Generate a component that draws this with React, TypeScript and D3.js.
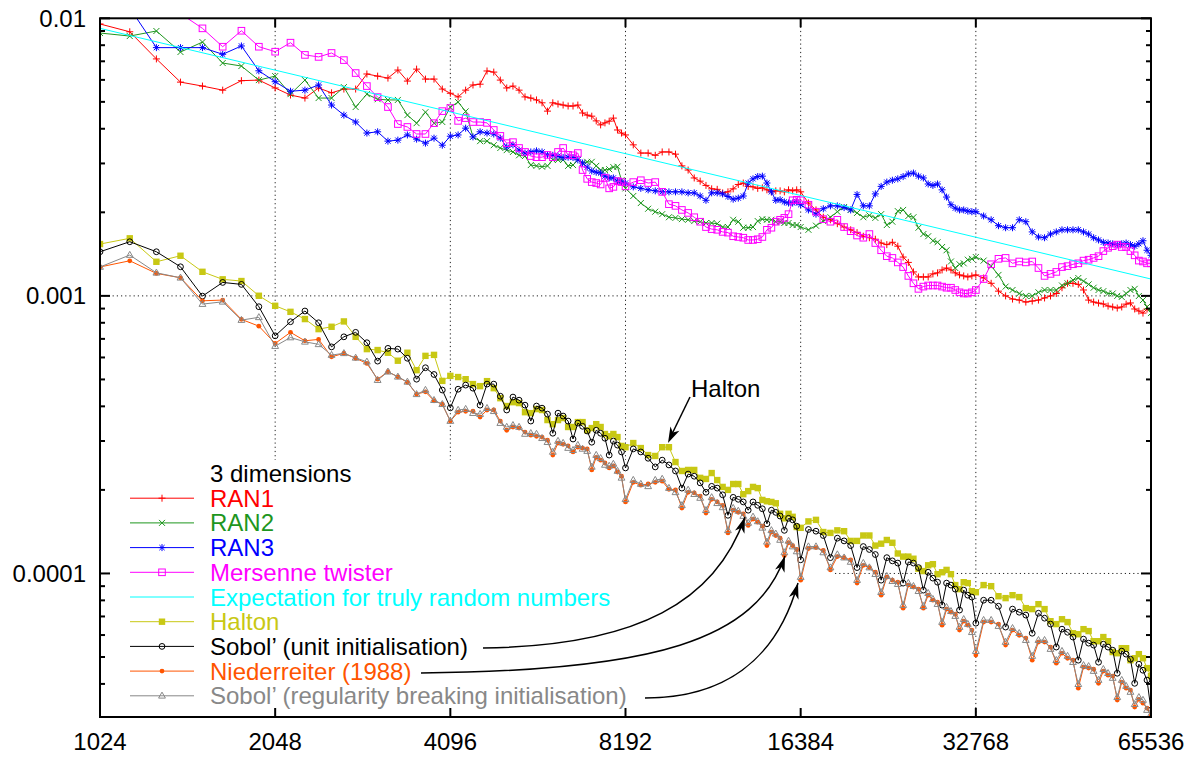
import React from 'react';
import * as d3 from 'd3';

// ---------------- data ----------------
// main sample counts (every 128 up to 4096, then coarser)
const sampleCounts = [
  1024, 1152, 1280, 1408, 1536, 1664, 1792, 1920, 2048, 2176, 2304, 2432, 2560, 2688, 2816, 2944, 3072, 3200, 3328, 3456, 3584, 3712, 3840, 3968, 4096,
  4352, 4608, 4864, 5120, 5376, 5632, 5888, 6144, 6400, 6656, 6912, 7168, 7424, 7680, 7936, 8192,
  8704, 9216, 9728, 10240, 10752, 11264, 11776, 12288, 12800, 13312, 13824, 14336, 14848, 15360, 15872, 16384,
  17408, 18432, 19456, 20480, 21504, 22528, 23552, 24576, 25600, 26624, 27648, 28672, 29696, 30720, 31744, 32768,
  34816, 36864, 38912, 40960, 43008, 45056, 47104, 49152, 51200, 53248, 55296, 57344, 59392, 61440, 63488, 65536,
];
// additional sample counts read between the main ones
const extraCounts = [
  4224, 4480, 4736, 4992, 5248, 5504, 5760, 6016, 6272, 6528, 6784, 7040, 7296, 7552, 7808, 8064,
  8448, 8960, 9472, 9984, 10496, 11008, 11520, 12032, 12544, 13056, 13568, 14080, 14592, 15104, 15616, 16128,
  16896, 17920, 18944, 19968, 20992, 22016, 23040, 24064, 25088, 26112, 27136, 28160, 29184, 30208, 31232, 32256,
  33792, 35840, 37888, 39936, 41984, 44032, 46080, 48128, 50176, 52224, 54272, 56320, 58368, 60416, 62464, 64512,
];

const ran1 = [
  0.00954, 0.00894, 0.00714, 0.00589, 0.0057, 0.00551, 0.00596, 0.00599, 0.00561, 0.00529, 0.00516, 0.00561, 0.00539, 0.00556, 0.00556, 0.0063, 0.00619, 0.00609, 0.00651, 0.00594, 0.00656, 0.00604, 0.00604, 0.00556, 0.00537,
  0.00551, 0.00579, 0.0064, 0.00561, 0.00551, 0.00516, 0.00496, 0.00496, 0.00487, 0.00483, 0.00456, 0.00444, 0.00413, 0.00426, 0.00396, 0.0038,
  0.00327, 0.00321, 0.0033, 0.00294, 0.00266, 0.0025, 0.00242, 0.00237, 0.00252, 0.00248, 0.00244, 0.00241, 0.00239, 0.00237, 0.00239, 0.00237,
  0.00204, 0.00188, 0.00177, 0.00169, 0.00162, 0.00155, 0.00156, 0.00138, 0.00122, 0.00117, 0.0012, 0.00124, 0.00124, 0.00119, 0.00117, 0.00119,
  0.00111, 0.001, 0.000966, 0.000958, 0.000983, 0.00102, 0.00111, 0.0011, 0.000966, 0.000942, 0.000919, 0.000904, 0.000934, 0.000897, 0.000867, 0.000889,
];
const ran1Extra = [
  0.00521, 0.00575, 0.00646, 0.00599, 0.0057, 0.00521, 0.00508, 0.00463, 0.00491, 0.00483, 0.00487, 0.00448, 0.00427, 0.0042, 0.00437, 0.00386,
  0.0035, 0.00327, 0.0033, 0.00324, 0.00284, 0.00259, 0.00243, 0.00235, 0.00243, 0.00255, 0.00247, 0.00245, 0.00237, 0.00239, 0.00241, 0.00241,
  0.00216, 0.00192, 0.00182, 0.00173, 0.00164, 0.0016, 0.00153, 0.00151, 0.00132, 0.00117, 0.00117, 0.00121, 0.00126, 0.00121, 0.00118, 0.00118,
  0.00116, 0.00104, 0.000974, 0.00095, 0.000966, 0.000999, 0.00107, 0.00111, 0.00105, 0.00095, 0.000935, 0.000912, 0.000912, 0.000943, 0.000882, 0.000897,
];

const ran2 = [
  0.00885, 0.00863, 0.009, 0.00756, 0.00821, 0.0069, 0.00673, 0.00599, 0.00619, 0.00533, 0.00599, 0.00516, 0.00516, 0.00565, 0.00479, 0.00533, 0.00511, 0.00508, 0.00508, 0.00448, 0.00419, 0.00459, 0.00419, 0.00423, 0.00479,
  0.00462, 0.00361, 0.00349, 0.00335, 0.00321, 0.00296, 0.00292, 0.00309, 0.00309, 0.00296, 0.00301, 0.00304, 0.00284, 0.00286, 0.00292, 0.00244,
  0.00216, 0.00201, 0.00192, 0.00189, 0.00186, 0.00183, 0.00182, 0.00177, 0.00185, 0.00176, 0.00186, 0.00188, 0.00185, 0.00183, 0.0018, 0.00177,
  0.00179, 0.00192, 0.00209, 0.00199, 0.00195, 0.00197, 0.00185, 0.00204, 0.00192, 0.00167, 0.00158, 0.0015, 0.00133, 0.0013, 0.00135, 0.00138,
  0.00128, 0.00108, 0.00102, 0.001, 0.00105, 0.00105, 0.00111, 0.00116, 0.0011, 0.00105, 0.00102, 0.001, 0.00102, 0.00106, 0.000966, 0.000867,
];
const ran2Extra = [
  0.00499, 0.00374, 0.00361, 0.00341, 0.0033, 0.00319, 0.00294, 0.00294, 0.00309, 0.00294, 0.00309, 0.00304, 0.00294, 0.00284, 0.00291, 0.00261,
  0.00229, 0.00206, 0.00197, 0.00191, 0.00188, 0.00185, 0.00183, 0.00177, 0.00188, 0.00176, 0.00177, 0.00189, 0.00188, 0.00185, 0.00183, 0.0018,
  0.00173, 0.00186, 0.00201, 0.00204, 0.00192, 0.00191, 0.0018, 0.00202, 0.00194, 0.00176, 0.00164, 0.00156, 0.00146, 0.00126, 0.00131, 0.00136,
  0.00134, 0.00119, 0.00105, 0.000999, 0.00103, 0.00105, 0.00109, 0.00114, 0.00113, 0.00107, 0.00104, 0.00102, 0.000991, 0.00105, 0.000999, 0.000912,
];

const ran3 = [
  0.0112, 0.0109, 0.00784, 0.00784, 0.00784, 0.00742, 0.00795, 0.00647, 0.00591, 0.00546, 0.00551, 0.00575, 0.00487, 0.00448, 0.00423, 0.00386, 0.0039, 0.00361, 0.00364, 0.0038, 0.00367, 0.00355, 0.0037, 0.00349, 0.00376,
  0.00402, 0.0039, 0.00383, 0.00344, 0.00335, 0.0033, 0.0033, 0.00321, 0.00315, 0.00315, 0.00301, 0.00282, 0.00277, 0.00266, 0.00259, 0.00255,
  0.00244, 0.00239, 0.00237, 0.00237, 0.00235, 0.00221, 0.00235, 0.00228, 0.00225, 0.00255, 0.00269, 0.00255, 0.00221, 0.00218, 0.00216, 0.00213,
  0.00197, 0.00211, 0.00208, 0.00232, 0.00211, 0.00248, 0.00261, 0.00269, 0.00277, 0.00266, 0.0025, 0.00241, 0.00213, 0.00204, 0.00202, 0.00201,
  0.00188, 0.00176, 0.00188, 0.0017, 0.00162, 0.0017, 0.00173, 0.00173, 0.00167, 0.00159, 0.00155, 0.00153, 0.00155, 0.00151, 0.00158, 0.0014,
];
const ran3Extra = [
  0.0038, 0.00374, 0.00386, 0.0037, 0.0035, 0.00327, 0.00333, 0.00322, 0.00319, 0.00316, 0.00309, 0.00291, 0.00279, 0.0027, 0.00266, 0.00257,
  0.00247, 0.00241, 0.00237, 0.00237, 0.00235, 0.00229, 0.00235, 0.00233, 0.00223, 0.00229, 0.00264, 0.0027, 0.00237, 0.00222, 0.00216, 0.00218,
  0.00204, 0.00206, 0.00211, 0.00204, 0.00211, 0.00233, 0.00257, 0.00264, 0.00275, 0.0027, 0.00253, 0.00253, 0.00227, 0.00207, 0.00204, 0.00201,
  0.00194, 0.00179, 0.00176, 0.00185, 0.00163, 0.00167, 0.00173, 0.00173, 0.0017, 0.00162, 0.00156, 0.00154, 0.00154, 0.00153, 0.00154, 0.00146,
];

const mersenne = [
  0.0125, 0.0118, 0.0112, 0.0104, 0.0092, 0.0079, 0.00902, 0.0079, 0.00758, 0.00817, 0.00738, 0.00726, 0.0075, 0.00707, 0.00635, 0.0057, 0.0052, 0.00479, 0.00416, 0.00406, 0.00383, 0.00383, 0.00419, 0.00463, 0.00475,
  0.00437, 0.00423, 0.00396, 0.00355, 0.00341, 0.00319, 0.00316, 0.00316, 0.00341, 0.00321, 0.00284, 0.00257, 0.00252, 0.00244, 0.00259, 0.00248,
  0.00261, 0.00257, 0.00214, 0.00204, 0.00192, 0.00177, 0.00173, 0.00169, 0.00163, 0.00159, 0.0016, 0.00173, 0.00185, 0.00191, 0.00221, 0.00221,
  0.00201, 0.00185, 0.00177, 0.00165, 0.00167, 0.00146, 0.00137, 0.00127, 0.00111, 0.00108, 0.00109, 0.00108, 0.00107, 0.00103, 0.00102, 0.00105,
  0.0013, 0.00137, 0.00133, 0.00133, 0.00118, 0.00122, 0.00128, 0.00131, 0.00135, 0.00139, 0.00149, 0.00153, 0.0015, 0.0014, 0.00133, 0.00131,
];
const mersenneExtra = [
  0.00427, 0.00423, 0.0042, 0.00377, 0.00358, 0.0033, 0.00316, 0.00322, 0.0033, 0.00322, 0.00327, 0.00264, 0.00255, 0.00266, 0.00247, 0.00257,
  0.00257, 0.00255, 0.00237, 0.00211, 0.00199, 0.00185, 0.00174, 0.0017, 0.00164, 0.00162, 0.00159, 0.00163, 0.00176, 0.00188, 0.00197, 0.00222,
  0.00213, 0.00189, 0.00188, 0.00171, 0.00162, 0.00155, 0.00139, 0.00132, 0.00118, 0.00106, 0.00109, 0.00109, 0.00107, 0.00105, 0.00102, 0.00103,
  0.00115, 0.00136, 0.00131, 0.00132, 0.00126, 0.0012, 0.00127, 0.0013, 0.00134, 0.00137, 0.00145, 0.00151, 0.0015, 0.00145, 0.00134, 0.00131,
];

const expectationCounts = [1024, 65536];
const expectation = [0.0092, 0.00115];

const halton = [
  0.001537, 0.001612, 0.001327, 0.001395, 0.001221, 0.001147, 0.001131, 0.001001, 0.000921, 0.000876, 0.000825, 0.000759, 0.000774, 0.000809, 0.000712, 0.000643, 0.000638, 0.000624, 0.000584, 0.000624, 0.00054, 0.000608, 0.000613, 0.000494, 0.000515,
  0.000501, 0.000473, 0.000465, 0.000401, 0.000411, 0.000378, 0.000388, 0.000345, 0.000363, 0.000337, 0.000351, 0.000334, 0.000337, 0.000312, 0.00031, 0.000285,
  0.000283, 0.000265, 0.000285, 0.000234, 0.000236, 0.000219, 0.000217, 0.0002, 0.00021, 0.000198, 0.000203, 0.000182, 0.000179, 0.000158, 0.00016, 0.000146,
  0.000156, 0.00014, 0.000142, 0.000131, 0.000137, 0.000128, 0.000129, 0.000115, 0.000113, 0.000102, 0.000108, 0.000101, 0.0000994, 0.0000878, 0.0000923, 0.0000856,
  0.00009, 0.0000815, 0.0000822, 0.0000744, 0.0000744, 0.0000657, 0.0000668, 0.0000604, 0.000062, 0.000057, 0.000057, 0.0000516, 0.0000538, 0.0000495, 0.0000495, 0.0000427,
];
const haltonExtra = [
  0.00051, 0.000481, 0.000493, 0.000428, 0.000414, 0.000381, 0.000391, 0.000357, 0.000357, 0.000337, 0.000351, 0.000328, 0.000345, 0.000318, 0.000318, 0.000288,
  0.000295, 0.000267, 0.000285, 0.000252, 0.000236, 0.000221, 0.00023, 0.000205, 0.00021, 0.000193, 0.000205, 0.000184, 0.000181, 0.000164, 0.000164, 0.000147,
  0.000154, 0.000141, 0.000143, 0.000131, 0.000137, 0.000126, 0.000132, 0.000118, 0.000115, 0.000104, 0.000107, 0.0000994, 0.000103, 0.0000908, 0.000093, 0.0000863,
  0.0000908, 0.0000828, 0.0000835, 0.000075, 0.0000775, 0.0000673, 0.0000684, 0.0000609, 0.000063, 0.000057, 0.000059, 0.0000521, 0.0000538, 0.0000487, 0.0000512, 0.0000456,
];

const sobolUnit = [
  0.001442, 0.001567, 0.001442, 0.001273, 0.000998, 0.001118, 0.0011, 0.000914, 0.000718, 0.000807, 0.000882, 0.0008, 0.000655, 0.000712, 0.000739, 0.000678, 0.000582, 0.000647, 0.000643, 0.000596, 0.000501, 0.000551, 0.000521, 0.000458, 0.000395,
  0.000477, 0.000404, 0.000481, 0.000388, 0.000421, 0.000354, 0.000394, 0.00032, 0.000369, 0.000305, 0.000339, 0.000297, 0.00032, 0.000267, 0.00029, 0.00024,
  0.000274, 0.000242, 0.000246, 0.000203, 0.000224, 0.000196, 0.000203, 0.000162, 0.000185, 0.000169, 0.000176, 0.000151, 0.000166, 0.000143, 0.000156, 0.000112,
  0.000142, 0.000114, 0.000131, 0.000105, 0.000122, 0.0000946, 0.000111, 0.0000923, 0.000109, 0.0000871, 0.0000962, 0.0000769, 0.0000908, 0.0000738, 0.0000835, 0.0000662,
  0.0000801, 0.0000641, 0.0000725, 0.0000609, 0.000069, 0.0000543, 0.0000614, 0.0000487, 0.0000561, 0.0000479, 0.0000543, 0.0000437, 0.0000512, 0.0000402, 0.0000448, 0.0000322,
];
const sobolUnitExtra = [
  0.000461, 0.000465, 0.000481, 0.000435, 0.000432, 0.000404, 0.000401, 0.000375, 0.000378, 0.000354, 0.000348, 0.000326, 0.000328, 0.000307, 0.0003, 0.000274,
  0.000281, 0.00026, 0.000256, 0.000234, 0.000228, 0.000212, 0.000206, 0.000192, 0.000188, 0.000181, 0.000181, 0.000171, 0.000169, 0.000161, 0.000158, 0.000148,
  0.000144, 0.000137, 0.000134, 0.000126, 0.000125, 0.000117, 0.000114, 0.000109, 0.00011, 0.000105, 0.000101, 0.000093, 0.0000923, 0.0000878, 0.0000871, 0.0000822,
  0.0000801, 0.0000762, 0.0000744, 0.0000708, 0.0000719, 0.0000657, 0.000063, 0.000059, 0.000058, 0.0000552, 0.0000556, 0.0000529, 0.0000525, 0.0000491, 0.0000471, 0.0000413,
];

const niederreiter = [
  0.001271, 0.001338, 0.001205, 0.001162, 0.00096, 0.000966, 0.000823, 0.000778, 0.000674, 0.000739, 0.000689, 0.000697, 0.000603, 0.000621, 0.000596, 0.000571, 0.000501, 0.000533, 0.000511, 0.000488, 0.000443, 0.000451, 0.000419, 0.000407, 0.000354,
  0.000384, 0.000366, 0.000388, 0.000328, 0.000334, 0.000315, 0.00031, 0.000267, 0.000292, 0.000274, 0.000283, 0.000236, 0.000256, 0.00024, 0.000232, 0.000181,
  0.000208, 0.000213, 0.000201, 0.000172, 0.000195, 0.000165, 0.000181, 0.00014, 0.000166, 0.000149, 0.000153, 0.000126, 0.000137, 0.000116, 0.000126, 0.0000946,
  0.000124, 0.000103, 0.000114, 0.0000923, 0.000105, 0.0000835, 0.0000946, 0.000075, 0.0000893, 0.000075, 0.0000801, 0.0000651, 0.0000725, 0.0000625, 0.0000651, 0.0000508,
  0.0000668, 0.0000552, 0.0000599, 0.0000487, 0.0000566, 0.0000475, 0.0000495, 0.0000386, 0.0000456, 0.0000402, 0.000043, 0.000035, 0.0000386, 0.000033, 0.0000341, 0.0000306,
];
const niederreiterExtra = [
  0.000381, 0.000384, 0.000388, 0.000354, 0.000337, 0.000323, 0.000312, 0.000302, 0.000295, 0.000288, 0.000285, 0.000281, 0.000262, 0.00025, 0.000244, 0.000224,
  0.000213, 0.00021, 0.000215, 0.0002, 0.000196, 0.00019, 0.000185, 0.000176, 0.000169, 0.000164, 0.000157, 0.000148, 0.000141, 0.000134, 0.000129, 0.000122,
  0.000123, 0.000121, 0.000115, 0.000112, 0.000107, 0.000101, 0.000097, 0.000093, 0.0000908, 0.0000878, 0.0000835, 0.0000788, 0.0000744, 0.0000713, 0.0000673, 0.0000625,
  0.0000668, 0.0000657, 0.0000625, 0.0000585, 0.0000566, 0.0000543, 0.0000516, 0.0000487, 0.000046, 0.0000452, 0.0000445, 0.0000427, 0.0000406, 0.000038, 0.0000352, 0.0000327,
];

const sobolReg = [
  0.001271, 0.001403, 0.001211, 0.001162, 0.000934, 0.000952, 0.000818, 0.000837, 0.000659, 0.000708, 0.000683, 0.000669, 0.000612, 0.000621, 0.000598, 0.000579, 0.000497, 0.000533, 0.000511, 0.00049, 0.000442, 0.000458, 0.000421, 0.000407, 0.000354,
  0.000391, 0.000375, 0.000384, 0.000337, 0.000337, 0.00032, 0.000307, 0.000274, 0.000295, 0.000278, 0.000281, 0.000242, 0.00026, 0.000244, 0.000234, 0.000185,
  0.00021, 0.000217, 0.000203, 0.000176, 0.000193, 0.000169, 0.000179, 0.000143, 0.000168, 0.000152, 0.000154, 0.00013, 0.000139, 0.000119, 0.000125, 0.000097,
  0.000125, 0.000105, 0.000114, 0.0000946, 0.000105, 0.0000856, 0.0000938, 0.0000769, 0.00009, 0.0000762, 0.0000808, 0.0000668, 0.0000731, 0.0000641, 0.0000657, 0.0000525,
  0.0000679, 0.0000566, 0.0000609, 0.0000504, 0.0000575, 0.0000487, 0.0000504, 0.0000399, 0.0000463, 0.0000413, 0.0000437, 0.0000358, 0.0000393, 0.0000338, 0.000035, 0.0000311,
];
const sobolRegExtra = [
  0.000388, 0.000378, 0.000394, 0.000348, 0.000342, 0.000318, 0.000318, 0.000297, 0.0003, 0.000283, 0.00029, 0.000276, 0.000267, 0.000246, 0.000248, 0.000221,
  0.000217, 0.000206, 0.000219, 0.000196, 0.0002, 0.000187, 0.000188, 0.000173, 0.000172, 0.000161, 0.00016, 0.000146, 0.000143, 0.000132, 0.000131, 0.00012,
  0.000125, 0.000119, 0.000117, 0.00011, 0.000109, 0.0000994, 0.0000978, 0.0000915, 0.0000923, 0.0000863, 0.0000849, 0.0000775, 0.0000756, 0.0000702, 0.0000684, 0.0000614,
  0.0000679, 0.0000646, 0.0000635, 0.0000575, 0.0000575, 0.0000534, 0.0000525, 0.0000479, 0.0000467, 0.0000445, 0.0000452, 0.000042, 0.0000413, 0.0000374, 0.0000358, 0.0000322,
];

const xTickValues = [1024, 2048, 4096, 8192, 16384, 32768, 65536];
const yMajorTicks = [0.0001, 0.001, 0.01];
const yTickLabels = ['0.0001', '0.001', '0.01'];
const legendTitle = '3 dimensions';

// ---------------- layout ----------------
const W = 1203;
const H = 760;
const L = 100;
const R = 1151;
const T = 18.3;
const B = 717;
const FONT = "'Liberation Sans', Arial, Helvetica, sans-serif";
const FS = 24;

const x = d3.scaleLog().base(2).domain([1024, 65536]).range([L, R]);
const y = d3.scaleLog().domain([3.04e-5, 0.01]).range([B, T]);

type MarkerType = 'plus' | 'cross' | 'star' | 'square' | 'fsquare' | 'circle' | 'fcircle' | 'triangle' | 'none';

interface Series {
  label: string;
  color: string;
  points: [number, number][];
  marker: MarkerType;
}

function combine(c1: number[], v1: number[], c2: number[] = [], v2: number[] = []): [number, number][] {
  const pts: [number, number][] = [];
  c1.forEach((c, i) => {
    if (v1[i] !== undefined) pts.push([c, v1[i]]);
  });
  c2.forEach((c, i) => {
    if (v2[i] !== undefined) pts.push([c, v2[i]]);
  });
  pts.sort((a, b) => a[0] - b[0]);
  return pts;
}

const series: Series[] = [
  { label: 'RAN1', color: '#ff0000', points: combine(sampleCounts, ran1, extraCounts, ran1Extra), marker: 'plus' },
  { label: 'RAN2', color: '#1e961e', points: combine(sampleCounts, ran2, extraCounts, ran2Extra), marker: 'cross' },
  { label: 'RAN3', color: '#0000ff', points: combine(sampleCounts, ran3, extraCounts, ran3Extra), marker: 'star' },
  { label: 'Mersenne twister', color: '#ff00ff', points: combine(sampleCounts, mersenne, extraCounts, mersenneExtra), marker: 'square' },
  { label: 'Expectation for truly random numbers', color: '#00ffff', points: combine(expectationCounts, expectation), marker: 'none' },
  { label: 'Halton', color: '#c8c814', points: combine(sampleCounts, halton, extraCounts, haltonExtra), marker: 'fsquare' },
  { label: 'Sobol\u2019 (unit initialisation)', color: '#000000', points: combine(sampleCounts, sobolUnit, extraCounts, sobolUnitExtra), marker: 'circle' },
  { label: 'Niederreiter (1988)', color: '#ff5500', points: combine(sampleCounts, niederreiter, extraCounts, niederreiterExtra), marker: 'fcircle' },
  { label: 'Sobol\u2019 (regularity breaking initialisation)', color: '#888888', points: combine(sampleCounts, sobolReg, extraCounts, sobolRegExtra), marker: 'triangle' },
];

function Marker({ type, cx, cy, color }: { type: MarkerType; cx: number; cy: number; color: string }) {
  const sw = 1;
  switch (type) {
    case 'plus': {
      const s = 3.5;
      return <path d={`M${cx - s},${cy}H${cx + s}M${cx},${cy - s}V${cy + s}`} stroke={color} strokeWidth={sw} fill="none" />;
    }
    case 'cross': {
      const s = 3;
      return <path d={`M${cx - s},${cy - s}L${cx + s},${cy + s}M${cx - s},${cy + s}L${cx + s},${cy - s}`} stroke={color} strokeWidth={sw} fill="none" />;
    }
    case 'star': {
      const s = 3.5;
      const c = 2.6;
      return (
        <path
          d={`M${cx - s},${cy}H${cx + s}M${cx},${cy - s}V${cy + s}M${cx - c},${cy - c}L${cx + c},${cy + c}M${cx - c},${cy + c}L${cx + c},${cy - c}`}
          stroke={color}
          strokeWidth={sw}
          fill="none"
        />
      );
    }
    case 'square':
      return <rect x={cx - 3.3} y={cy - 3.3} width={6.6} height={6.6} stroke={color} strokeWidth={sw} fill="none" />;
    case 'fsquare':
      return <rect x={cx - 3.2} y={cy - 3.2} width={6.4} height={6.4} fill={color} />;
    case 'circle':
      return <circle cx={cx} cy={cy} r={2.9} stroke={color} strokeWidth={sw} fill="none" />;
    case 'fcircle':
      return <circle cx={cx} cy={cy} r={2.4} fill={color} />;
    case 'triangle':
      return <path d={`M${cx},${cy - 3.7}L${cx + 3.4},${cy + 2.3}L${cx - 3.4},${cy + 2.3}Z`} stroke={color} strokeWidth={sw} fill="none" />;
    default:
      return null;
  }
}

function arrowHead(tx: number, ty: number, fx: number, fy: number, len = 16, half = 5) {
  const dx = tx - fx;
  const dy = ty - fy;
  const n = Math.hypot(dx, dy);
  const ux = dx / n;
  const uy = dy / n;
  const px = -uy;
  const py = ux;
  const bx = tx - ux * len;
  const by = ty - uy * len;
  const nx = tx - ux * len * 0.72;
  const ny = ty - uy * len * 0.72;
  return `M${tx},${ty}L${bx + px * half},${by + py * half}L${nx},${ny}L${bx - px * half},${by - py * half}Z`;
}

export default function App() {
  const line = d3
    .line<[number, number]>()
    .x((d) => x(d[0]))
    .y((d) => y(d[1]));

  const yMinor: number[] = [];
  [1e-5, 1e-4, 1e-3].forEach((dec) => {
    for (let k = 2; k <= 9; k++) {
      const v = k * dec;
      if (v >= 3.04e-5 && v <= 0.01) yMinor.push(v);
    }
  });

  const legendRow0 = 473.5;
  const legendStep = 24.7;
  const legendLineX0 = 130;
  const legendLineX1 = 194;
  const legendTextX = 210;

  const gridDash = '1.2 3';

  // curved annotation arrows (start near legend text end, tip at data)
  const curves = [
    { p0: [483, 648], p1: [640, 646], p2: [716, 600], p3: [745, 517] },
    { p0: [421, 673], p1: [655, 671], p2: [756, 640], p3: [785, 556] },
    { p0: [645, 698], p1: [722, 698], p2: [776, 662], p3: [798, 583] },
  ];

  return (
    <svg
      width={W}
      height={H}
      viewBox={`0 0 ${W} ${H}`}
      style={{ position: 'absolute', left: 0, top: 0, display: 'block' }}
      fontFamily={FONT}
    >
      <defs>
        <clipPath id="plotClip">
          <rect x={L} y={T} width={R - L} height={B - T} />
        </clipPath>
      </defs>
      <rect x={0} y={0} width={W} height={H} fill="#ffffff" />

      {/* grid */}
      <g stroke="#222" strokeWidth={1} strokeDasharray={gridDash} fill="none">
        {xTickValues.slice(1, -1).map((t) => (
          <line key={`gx${t}`} x1={x(t)} x2={x(t)} y1={T} y2={t === 32768 ? B : 460} />
        ))}
        {yMajorTicks.slice(0, 2).map((t) => (
          <line key={`gy${t}`} x1={L} x2={R} y1={y(t)} y2={y(t)} />
        ))}
      </g>

      {/* opaque key area */}
      <rect x={112} y={460} width={720} height={B - 460} fill="#ffffff" />

      {/* data */}
      <g clipPath="url(#plotClip)">
        {series.map((s, si) => (
          <g key={`s${si}`}>
            <path d={line(s.points) || ''} stroke={s.color} strokeWidth={1} fill="none" />
            {s.marker !== 'none' &&
              s.points.map((p, i) => <Marker key={i} type={s.marker} cx={x(p[0])} cy={y(p[1])} color={s.color} />)}
          </g>
        ))}
      </g>

      {/* legend */}
      <g fontSize={FS}>
        <text x={legendTextX} y={legendRow0 + 8.5} fill="#000">
          {legendTitle}
        </text>
        {series.map((s, i) => {
          const ry = legendRow0 + legendStep * (i + 1);
          return (
            <g key={`lg${i}`}>
              <line x1={legendLineX0} x2={legendLineX1} y1={ry} y2={ry} stroke={s.color} strokeWidth={1} />
              <Marker type={s.marker} cx={(legendLineX0 + legendLineX1) / 2} cy={ry} color={s.color} />
              <text x={legendTextX} y={ry + 8.5} fill={s.color}>
                {s.label}
              </text>
            </g>
          );
        })}
      </g>

      {/* annotations */}
      <g>
        <text x={691} y={397} fontSize={FS} fill="#000">
          Halton
        </text>
        <line x1={690} y1={397} x2={672} y2={434} stroke="#000" strokeWidth={1.5} />
        <path d={arrowHead(668, 443, 690, 397)} fill="#000" />
        {curves.map((c, i) => (
          <g key={`cv${i}`}>
            <path
              d={`M${c.p0[0]},${c.p0[1]}C${c.p1[0]},${c.p1[1]} ${c.p2[0]},${c.p2[1]} ${c.p3[0]},${c.p3[1]}`}
              stroke="#000"
              strokeWidth={1.5}
              fill="none"
            />
            <path d={arrowHead(c.p3[0], c.p3[1], c.p2[0], c.p2[1])} fill="#000" />
          </g>
        ))}
      </g>

      {/* frame and ticks */}
      <g stroke="#000" fill="none">
        <rect x={L} y={T} width={R - L} height={B - T} strokeWidth={2} />
        {xTickValues.slice(1, -1).map((t) => (
          <g key={`xt${t}`} strokeWidth={2}>
            <line x1={x(t)} x2={x(t)} y1={B} y2={B - 9} />
            <line x1={x(t)} x2={x(t)} y1={T} y2={T + 9} />
          </g>
        ))}
        {yMajorTicks.map((t) => (
          <g key={`ymt${t}`} strokeWidth={2}>
            <line x1={L} x2={L + 10} y1={y(t)} y2={y(t)} />
            <line x1={R} x2={R - 10} y1={y(t)} y2={y(t)} />
          </g>
        ))}
        {yMinor.map((t) => (
          <g key={`ymn${t}`} strokeWidth={2}>
            <line x1={L} x2={L + 5} y1={y(t)} y2={y(t)} />
            <line x1={R} x2={R - 5} y1={y(t)} y2={y(t)} />
          </g>
        ))}
      </g>

      {/* tick labels */}
      <g fontSize={FS} fill="#000">
        {yMajorTicks.map((t, i) => (
          <text key={`yl${t}`} x={86} y={y(t) + 8.5} textAnchor="end">
            {yTickLabels[i]}
          </text>
        ))}
        {xTickValues.map((t) => (
          <text key={`xl${t}`} x={x(t)} y={750} textAnchor="middle">
            {String(t)}
          </text>
        ))}
      </g>
    </svg>
  );
}
